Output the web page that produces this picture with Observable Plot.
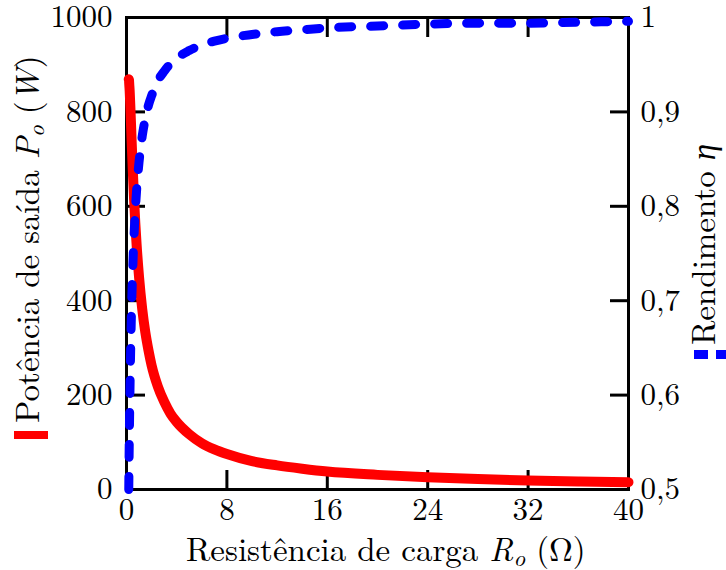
<!DOCTYPE html>
<html><head><meta charset="utf-8">
<script src="https://cdn.jsdelivr.net/npm/d3@7"></script>
<script src="https://cdn.jsdelivr.net/npm/@observablehq/plot@0.6"></script>
<style>
body{margin:0;background:#fff}
svg{display:block}
svg text, svg tspan{font-family:'Latin Modern Roman','Liberation Serif',serif !important;}
</style>
</head><body><div id="chart"></div>
<script>
// Load resistance R_o (ohm)
const resistance = [0.18, 0.19, 0.2, 0.22, 0.25, 0.3, 0.35, 0.4, 0.5, 0.6, 0.7, 0.8, 1, 1.25, 1.5, 1.75, 2, 2.5, 3, 3.5, 4, 5, 6, 7, 8, 10, 12, 14, 16, 20, 24, 28, 32, 36, 40];
// Output power P_o (W)
const power = [869, 868, 867, 858, 846, 815, 781, 744, 677, 617, 565, 521, 450, 383, 333, 295, 263, 218, 186, 161, 143, 117, 98, 85, 75, 60, 51, 44, 38, 31, 26, 22, 19, 17, 15.5];
// Efficiency eta
const efficiency = [0.5, 0.513, 0.526, 0.55, 0.581, 0.625, 0.66, 0.69, 0.735, 0.769, 0.795, 0.816, 0.847, 0.874, 0.893, 0.907, 0.917, 0.933, 0.943, 0.951, 0.957, 0.965, 0.971, 0.975, 0.978, 0.982, 0.985, 0.987, 0.989, 0.991, 0.993, 0.994, 0.994, 0.995, 0.996];

const xTicks = [0, 8, 16, 24, 32, 40];
const powerTicks = [0, 200, 400, 600, 800, 1000];
const etaTicks = [0.5, 0.6, 0.7, 0.8, 0.9, 1];

const etaToP = e => (e - 0.5) * 2000;
const pToEta = p => p / 2000 + 0.5;
const fmtEta = e => { const v = Math.round(e * 10) / 10; return v === 1 ? "1" : String(v).replace(".", ","); };

const powerData = resistance.map((r, i) => ({r, p: power[i]}));
const etaData = resistance.map((r, i) => ({r, p: etaToP(efficiency[i])}));

const font = "Latin Modern Roman";
const labelSize = 33;

const plot = Plot.plot({
  width: 726, height: 570,
  marginLeft: 126, marginRight: 98, marginTop: 17, marginBottom: 81,
  style: {fontFamily: font, fontSize: "31px", background: "white", color: "black", overflow: "visible"},
  x: {domain: [0, 40]},
  y: {domain: [0, 1000]},
  marks: [
    Plot.frame({strokeWidth: 3}),
    Plot.axisX({anchor: "bottom", ticks: xTicks, tickFormat: d3.format("d"), tickSize: -19, tickPadding: 27, strokeWidth: 3, label: null}),
    Plot.axisX({anchor: "top", ticks: xTicks, tickFormat: () => "", tickSize: -19, strokeWidth: 3, label: null}),
    Plot.axisY({anchor: "left", ticks: powerTicks, tickFormat: d3.format("d"), tickSize: -19, tickPadding: 33, strokeWidth: 3, label: null}),
    Plot.axisY({anchor: "right", ticks: etaTicks.map(etaToP), tickFormat: d => fmtEta(pToEta(d)), tickSize: -19, tickPadding: 31, strokeWidth: 3, label: null}),
    Plot.line(powerData, {x: "r", y: "p", stroke: "#ff0000", strokeWidth: 10, strokeLinecap: "round", curve: "monotone-x"}),
    Plot.line(etaData, {x: "r", y: "p", stroke: "#0000ff", strokeWidth: 9, strokeLinecap: "round", strokeDasharray: "13,19", curve: "monotone-x"})
  ]
});

const svg = d3.select(plot);

// x label
const xl = svg.append("text").attr("x", 186).attr("y", 561).attr("text-anchor", "start")
  .attr("font-size", labelSize).attr("fill", "black");
xl.append("tspan").text("Resistência de carga ");
xl.append("tspan").attr("font-style", "italic").text("R");
xl.append("tspan").attr("font-style", "italic").attr("font-size", 23).attr("dy", 5).text("o");
xl.append("tspan").attr("dy", -5).text(" (Ω)");

// left label
const ll = svg.append("text").attr("transform", "translate(39,423) rotate(-90)").attr("text-anchor", "start")
  .attr("font-size", labelSize).attr("fill", "black");
ll.append("tspan").text("Potência de saída ");
ll.append("tspan").attr("font-style", "italic").text("P");
ll.append("tspan").attr("font-style", "italic").attr("font-size", 23).attr("dy", 5).text("o");
ll.append("tspan").attr("dy", -5).text(" (");
ll.append("tspan").attr("font-style", "italic").text("W");
ll.append("tspan").text(")");
svg.append("rect").attr("x", 14).attr("y", 431).attr("width", 34).attr("height", 8).attr("fill", "#ff0000");

// right label
const rl = svg.append("text").attr("transform", "translate(715,345) rotate(-90)").attr("text-anchor", "start")
  .attr("font-size", labelSize).attr("fill", "black");
rl.append("tspan").text("Rendimento ");
rl.append("tspan").attr("font-style", "italic").text("η");
svg.append("rect").attr("x", 694).attr("y", 350).attr("width", 14).attr("height", 9).attr("fill", "#0000ff");
svg.append("rect").attr("x", 716).attr("y", 350).attr("width", 10).attr("height", 9).attr("fill", "#0000ff");

document.getElementById("chart").appendChild(plot);
</script>
</body></html>
